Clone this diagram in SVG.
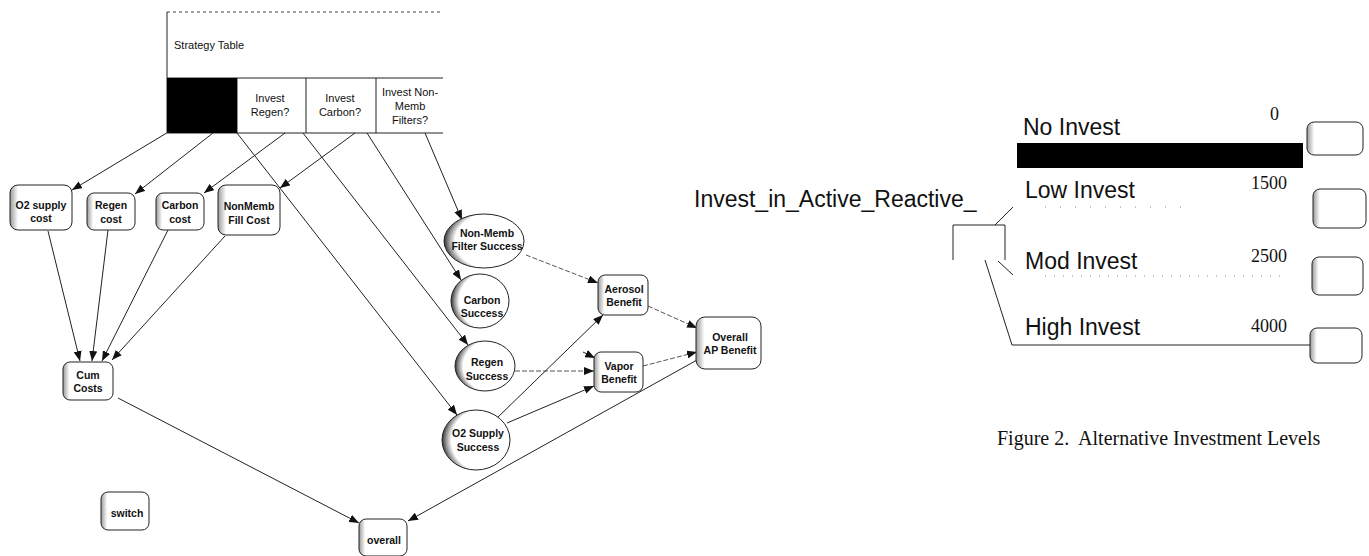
<svg xmlns="http://www.w3.org/2000/svg" width="1369" height="556" viewBox="0 0 1369 556">
<style>
.ln{stroke:#222;stroke-width:1;fill:none}
.dl{stroke:#555;stroke-width:1;fill:none;stroke-dasharray:5 2}
.bx{fill:url(#sh);stroke:#222;stroke-width:1}
.ov{fill:url(#osh);stroke:#222;stroke-width:1}
.nt{font-family:"Liberation Sans",Arial,sans-serif;font-size:10.5px;font-weight:bold;text-anchor:middle;fill:#111}
.tt{font-family:"Liberation Sans",Arial,sans-serif;font-size:11px;fill:#111}
.big{font-family:"Liberation Sans",Arial,sans-serif;font-size:23px;fill:#111}
.num{font-family:"Liberation Serif","Times New Roman",serif;font-size:18px;fill:#111;text-anchor:end}
</style>
<defs>
<linearGradient id="sh" x1="0" y1="0" x2="1" y2="0">
<stop offset="0" stop-color="#999"/><stop offset="0.13" stop-color="#fff"/><stop offset="1" stop-color="#fff"/>
</linearGradient>
<radialGradient id="osh" cx="0.7" cy="0.5" r="0.72">
<stop offset="0.78" stop-color="#fff"/><stop offset="0.9" stop-color="#888"/><stop offset="1" stop-color="#111"/>
</radialGradient>
<marker id="ah" viewBox="0 0 10 8" refX="10" refY="4" markerWidth="10" markerHeight="8" markerUnits="userSpaceOnUse" orient="auto">
<path d="M0,0 L10,4 L0,8 z" fill="#111"/>
</marker>
</defs>

<g id="strategy-table">
<line x1="167" y1="12" x2="443" y2="12" stroke="#444" stroke-dasharray="3 3"/>
<line class="ln" x1="167" y1="12" x2="167" y2="133"/>
<line class="ln" x1="167" y1="78" x2="443" y2="78"/>
<line class="ln" x1="167" y1="133" x2="443" y2="133"/>
<line class="ln" x1="237" y1="78" x2="237" y2="133"/>
<line class="ln" x1="306" y1="78" x2="306" y2="133"/>
<line class="ln" x1="376" y1="78" x2="376" y2="133"/>
<rect x="167" y="78" width="70" height="55" fill="#000"/>
<text class="tt" x="174" y="49">Strategy Table</text>
<text class="tt" x="270" y="102" text-anchor="middle">Invest</text>
<text class="tt" x="270" y="116" text-anchor="middle">Regen?</text>
<text class="tt" x="340" y="102" text-anchor="middle">Invest</text>
<text class="tt" x="340" y="116" text-anchor="middle">Carbon?</text>
<text class="tt" x="410" y="96" text-anchor="middle">Invest Non-</text>
<text class="tt" x="410" y="110" text-anchor="middle">Memb</text>
<text class="tt" x="410" y="124" text-anchor="middle">Filters?</text>
</g>

<g id="connectors">
<line class="ln" x1="170" y1="131" x2="72" y2="190" marker-end="url(#ah)"/>
<line class="ln" x1="213" y1="133" x2="135" y2="194" marker-end="url(#ah)"/>
<line class="ln" x1="285" y1="133" x2="204" y2="193" marker-end="url(#ah)"/>
<line class="ln" x1="355" y1="133" x2="280" y2="188" marker-end="url(#ah)"/>
<line class="ln" x1="237" y1="133" x2="457" y2="415" marker-end="url(#ah)"/>
<line class="ln" x1="303" y1="133" x2="468" y2="345" marker-end="url(#ah)"/>
<line class="ln" x1="367" y1="133" x2="461" y2="280" marker-end="url(#ah)"/>
<line class="ln" x1="425" y1="133" x2="462" y2="220" marker-end="url(#ah)"/>
<line class="ln" x1="48" y1="231" x2="80" y2="361" marker-end="url(#ah)"/>
<line class="ln" x1="108" y1="230" x2="92" y2="361" marker-end="url(#ah)"/>
<line class="ln" x1="168" y1="230" x2="102" y2="361" marker-end="url(#ah)"/>
<line class="ln" x1="225" y1="236" x2="112" y2="360" marker-end="url(#ah)"/>
<line class="ln" x1="118" y1="398" x2="359" y2="523" marker-end="url(#ah)"/>
<line class="ln" x1="697" y1="360" x2="408" y2="521" marker-end="url(#ah)"/>
<line class="dl" x1="526" y1="255" x2="598" y2="283" marker-end="url(#ah)"/>
<line class="dl" x1="515" y1="371" x2="594" y2="371" marker-end="url(#ah)"/>
<line class="ln" x1="497" y1="418" x2="603" y2="315" marker-end="url(#ah)"/>
<line class="ln" x1="507" y1="423" x2="594" y2="386" marker-end="url(#ah)"/>
<line class="ln" x1="583" y1="352" x2="595" y2="358" marker-end="url(#ah)"/>
<line class="dl" x1="648" y1="306" x2="697" y2="328" marker-end="url(#ah)"/>
<line class="dl" x1="643" y1="366" x2="697" y2="352" marker-end="url(#ah)"/>
</g>

<g id="o2-supply-cost"><rect class="bx" x="10" y="185" width="62" height="45" rx="8"/><text class="nt" x="41" y="209">O2 supply</text><text class="nt" x="41" y="222">cost</text></g>
<g id="regen-cost"><rect class="bx" x="87" y="193" width="48" height="37" rx="7"/><text class="nt" x="111" y="209">Regen</text><text class="nt" x="111" y="223">cost</text></g>
<g id="carbon-cost"><rect class="bx" x="156" y="193" width="48" height="37" rx="7"/><text class="nt" x="180" y="209">Carbon</text><text class="nt" x="180" y="223">cost</text></g>
<g id="nonmemb-fill-cost"><rect class="bx" x="218" y="185" width="62" height="50" rx="8"/><text class="nt" x="249" y="210">NonMemb</text><text class="nt" x="249" y="224">Fill Cost</text></g>
<g id="cum-costs"><rect class="bx" x="63" y="362" width="50" height="38" rx="7"/><text class="nt" x="88" y="379">Cum</text><text class="nt" x="88" y="392">Costs</text></g>
<g id="switch"><rect class="bx" x="101" y="492" width="48" height="38" rx="7"/><text class="nt" x="127" y="517">switch</text></g>
<g id="overall"><rect class="bx" x="359" y="519" width="48" height="37" rx="7"/><text class="nt" x="384" y="544">overall</text></g>

<g id="non-memb-filter-success"><ellipse class="ov" cx="484" cy="241" rx="40" ry="27"/><text class="nt" x="487" y="237">Non-Memb</text><text class="nt" x="487" y="250">Filter Success</text></g>
<g id="carbon-success"><ellipse class="ov" cx="480" cy="301" rx="29" ry="27"/><text class="nt" x="482" y="304">Carbon</text><text class="nt" x="482" y="317">Success</text></g>
<g id="regen-success"><ellipse class="ov" cx="485" cy="366" rx="30" ry="25"/><text class="nt" x="487" y="366">Regen</text><text class="nt" x="487" y="380">Success</text></g>
<g id="o2-supply-success"><ellipse class="ov" cx="476" cy="440" rx="34" ry="30"/><text class="nt" x="478" y="437">O2 Supply</text><text class="nt" x="478" y="451">Success</text></g>

<g id="aerosol-benefit"><rect class="bx" x="598" y="275" width="50" height="40" rx="7"/><text class="nt" x="624" y="293">Aerosol</text><text class="nt" x="624" y="306">Benefit</text></g>
<g id="vapor-benefit"><rect class="bx" x="594" y="352" width="49" height="40" rx="7"/><text class="nt" x="619" y="370">Vapor</text><text class="nt" x="619" y="383">Benefit</text></g>
<g id="overall-ap-benefit"><rect class="bx" x="696" y="317" width="65" height="52" rx="9"/><text class="nt" x="730" y="341">Overall</text><text class="nt" x="730" y="354">AP Benefit</text></g>

<g id="investment-levels">
<text class="big" x="694" y="207">Invest_in_Active_Reactive_</text>
<path class="ln" d="M953,260 L953,225 L1005,225 L1005,260"/>
<line class="ln" x1="995" y1="225" x2="1013" y2="207"/>
<line class="ln" x1="998" y1="261" x2="1013" y2="275"/>
<polyline class="ln" points="985,260 1012,345 1310,345"/>
<text class="big" x="1023" y="135">No Invest</text>
<rect x="1017" y="143" width="286" height="25" fill="#000"/>
<text class="num" x="1279" y="120">0</text>
<text class="big" x="1025" y="198">Low Invest</text>
<text class="num" x="1287" y="189">1500</text>
<text class="big" x="1025" y="269">Mod Invest</text>
<text class="num" x="1287" y="262">2500</text>
<text class="big" x="1025" y="335">High Invest</text>
<text class="num" x="1287" y="332">4000</text>
<line x1="1045" y1="207" x2="1185" y2="207" stroke="#888" stroke-dasharray="1 14"/>
<line x1="1045" y1="276" x2="1285" y2="276" stroke="#888" stroke-dasharray="1 8"/>
<rect class="bx" x="1307" y="122" width="56" height="33" rx="7"/>
<rect class="bx" x="1313" y="189" width="53" height="39" rx="7"/>
<rect class="bx" x="1312" y="257" width="51" height="38" rx="7"/>
<rect class="bx" x="1310" y="328" width="52" height="35" rx="7"/>
<text x="997" y="445" xml:space="preserve" font-family="Liberation Serif, Times New Roman, serif" font-size="20" fill="#111">Figure 2.  Alternative Investment Levels</text>
</g>
</svg>
